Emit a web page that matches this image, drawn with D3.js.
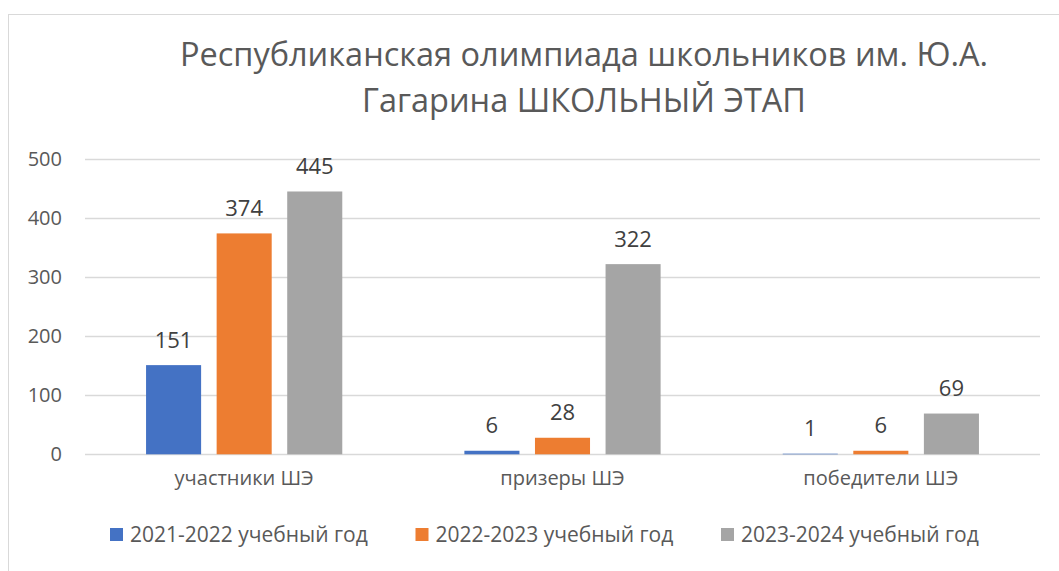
<!DOCTYPE html>
<html>
<head>
<meta charset="utf-8">
<script src="https://cdn.jsdelivr.net/npm/d3@7"></script>
<style>
  body { margin: 0; background: #fff; }
  svg { display: block; font-family: "Open Sans", sans-serif; }
</style>
</head>
<body>
<div id="chart"></div>
<script>
// Chart data
var categories = ["участники ШЭ", "призеры ШЭ", "победители ШЭ"];
var seriesNames = ["2021-2022 учебный год", "2022-2023 учебный год", "2023-2024 учебный год"];
var values2021 = [151, 6, 1];
var values2022 = [374, 28, 6];
var values2023 = [445, 322, 69];
var yTicks = [0, 100, 200, 300, 400, 500];
var titleLines = ["Республиканская олимпиада школьников им. Ю.А.", "Гагарина ШКОЛЬНЫЙ ЭТАП"];

var colors = ["#4472C4", "#ED7D31", "#A5A5A5"];
var textColor = "#595959";
var gridColor = "#d9d9d9";

var width = 1059, height = 571;
var margin = { top: 159, right: 19, bottom: 117, left: 85 };

var svg = d3.select("#chart")
    .append("svg")
    .attr("width", width)
    .attr("height", height);

// chart border
svg.append("rect")
    .attr("x", 8.5).attr("y", 14.5)
    .attr("width", 1060).attr("height", 600)
    .attr("fill", "none")
    .attr("stroke", gridColor)
    .attr("stroke-width", 1);

// title
svg.append("g").selectAll("text")
    .data(titleLines)
    .enter().append("text")
    .attr("x", 584)
    .attr("y", function (d, i) { return 66 + i * 46; })
    .attr("text-anchor", "middle")
    .attr("font-size", "32.5px")
    .attr("fill", textColor)
    .text(function (d) { return d; });

// scales
var x0 = d3.scaleBand()
    .domain(categories)
    .range([margin.left, width - margin.right]);

var x1 = d3.scaleBand()
    .domain(seriesNames)
    .range([0, x0.bandwidth()])
    .paddingInner(0.22)
    .paddingOuter(0.865);

var y = d3.scaleLinear()
    .domain([0, 500])
    .range([454.3, 159]);

// gridlines
svg.append("g")
    .selectAll("line")
    .data(yTicks)
    .enter().append("line")
    .attr("x1", margin.left)
    .attr("x2", width - margin.right)
    .attr("y1", function (d) { return Math.round(y(d)) + 0.5; })
    .attr("y2", function (d) { return Math.round(y(d)) + 0.5; })
    .attr("stroke", gridColor)
    .attr("stroke-width", 1.3);

// left axis (labels only)
var yAxis = svg.append("g")
    .attr("transform", "translate(" + (margin.left - 23) + ",0)")
    .call(d3.axisLeft(y).tickValues(yTicks).tickSize(0).tickPadding(0));
yAxis.select(".domain").remove();
yAxis.selectAll("text")
    .attr("font-family", "Open Sans, sans-serif")
    .attr("font-size", "20px")
    .attr("fill", textColor);

// bottom axis (category labels only)
var xAxis = svg.append("g")
    .attr("transform", "translate(0," + 471 + ")")
    .call(d3.axisBottom(x0).tickSize(0).tickPadding(0));
xAxis.select(".domain").remove();
xAxis.selectAll("text")
    .attr("font-family", "Open Sans, sans-serif")
    .attr("font-size", "20px")
    .attr("fill", textColor);

// bars
var seriesData = [values2021, values2022, values2023];
var rows = [];
seriesData.forEach(function (vals, s) {
    vals.forEach(function (v, c) {
        rows.push({ series: seriesNames[s], cat: categories[c], value: v, s: s });
    });
});

svg.append("g")
    .selectAll("rect")
    .data(rows)
    .enter().append("rect")
    .attr("x", function (d) { return x0(d.cat) + x1(d.series); })
    .attr("y", function (d) { return y(d.value); })
    .attr("width", x1.bandwidth())
    .attr("height", function (d) { return y(0) - y(d.value); })
    .attr("fill", function (d) { return colors[d.s]; });

// data labels
svg.append("g")
    .selectAll("text")
    .data(rows)
    .enter().append("text")
    .attr("x", function (d) { return x0(d.cat) + x1(d.series) + x1.bandwidth() / 2; })
    .attr("y", function (d) { return y(d.value) - 17.5; })
    .attr("text-anchor", "middle")
    .attr("font-size", "22px")
    .attr("fill", "#404040")
    .text(function (d) { return d.value; });

// legend
var legend = svg.append("g")
    .selectAll("g")
    .data(seriesNames)
    .enter().append("g")
    .attr("transform", function (d, i) { return "translate(" + (110 + i * 305.5) + ",528)"; });

legend.append("rect")
    .attr("width", 13)
    .attr("height", 13)
    .attr("fill", function (d, i) { return colors[i]; });

legend.append("text")
    .attr("x", 20)
    .attr("y", 13.5)
    .attr("font-size", "21px")
    .attr("fill", textColor)
    .text(function (d) { return d; });
</script>
</body>
</html>
